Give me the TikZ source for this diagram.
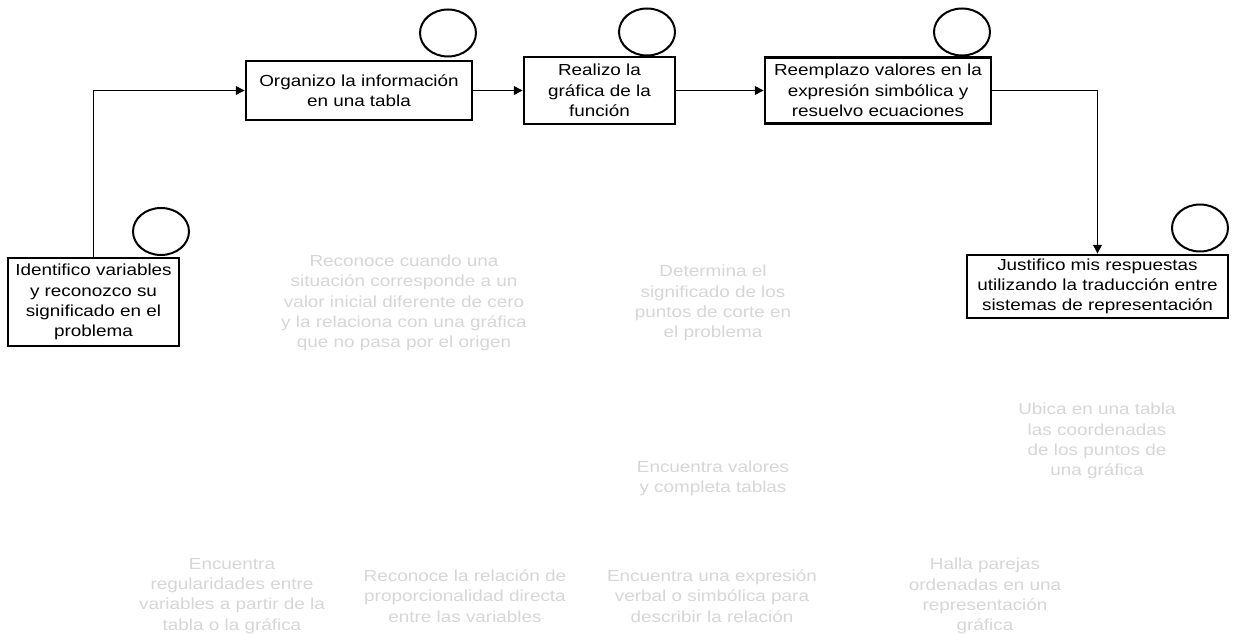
\documentclass[tikz,border=0pt]{standalone}
\usepackage{fontspec}
\setmainfont{Liberation Sans}[FakeStretch=1.18]
\usetikzlibrary{arrows.meta,shapes.geometric}

\def\px{0.75pt}

\begin{document}
\begin{tikzpicture}[x=0.75pt, y=-0.75pt,
  font=\fontsize{12}{15.2}\selectfont,
  paso/.style={draw, line width=2.1pt, align=center, inner sep=0pt},
  ring/.style={draw, ellipse, line width=1.5pt, minimum width=56*\px, minimum height=47*\px, inner sep=0pt},
  meta/.style={text=black!16, align=center, inner sep=0pt},
  flecha/.style={line width=0.7pt, -{Triangle[length=6.5pt,width=6.5pt]}}]
\useasboundingbox (0,0) rectangle (1233,634);

\def\ry{90.5}

% pasos del proceso
\node[paso, minimum width=171*\px, minimum height=88*\px] (ident) at (93.5,302) {Identifico variables\\ y reconozco su\\ significado en el\\ problema};
\node[paso, minimum width=226*\px, minimum height=59*\px] (organ) at (359,\ry) {Organizo la información\\ en una tabla};
\node[paso, minimum width=151*\px, minimum height=67*\px] (realiz) at (599.5,\ry) {Realizo la\\ gráfica de la\\ función};
\node[paso, minimum width=226*\px, minimum height=66*\px] (reempl) at (878,\ry) {Reemplazo valores en la\\ expresión simbólica y\\ resuelvo ecuaciones};
\node[paso, minimum width=261*\px, minimum height=63*\px] (justif) at (1097.5,286.5) {Justifico mis respuestas\\ utilizando la traducción entre\\ sistemas de representación};

% circulos vacios
\node[ring] (c1) at (161,231.5) {};
\node[ring] (c2) at (448,33) {};
\node[ring] (c3) at (647,32) {};
\node[ring] (c4) at (962,32) {};
\node[ring] (c5) at (1200,228) {};

\draw[flecha] (ident.north) |- (organ.west);
\draw[flecha] (organ.east) -- (realiz.west);
\draw[flecha] (realiz.east) -- (reempl.west);
\draw[flecha] (reempl.east) -| (justif.north);

% textos claros
\node[meta] (m1) at (404,303) {Reconoce cuando una\\ situación corresponde a un\\ valor inicial diferente de cero\\ y la relaciona con una gráfica\\ que no pasa por el origen};
\node[meta] (m2) at (713,303) {Determina el\\ significado de los\\ puntos de corte en\\ el problema};
\node[meta] (m3) at (1097,441) {Ubica en una tabla\\ las coordenadas\\ de los puntos de\\ una gráfica};
\node[meta] (m4) at (713,478) {Encuentra valores\\ y completa tablas};
\node[meta] (m5) at (232,596) {Encuentra\\ regularidades entre\\ variables a partir de la\\ tabla o la gráfica};
\node[meta] (m6) at (465,596) {Reconoce la relación de\\ proporcionalidad directa\\ entre las variables};
\node[meta] (m7) at (712,596) {Encuentra una expresión\\ verbal o simbólica para\\ describir la relación};
\node[meta] (m8) at (985,596) {Halla parejas\\ ordenadas en una\\ representación\\ gráfica};

\end{tikzpicture}
\end{document}
